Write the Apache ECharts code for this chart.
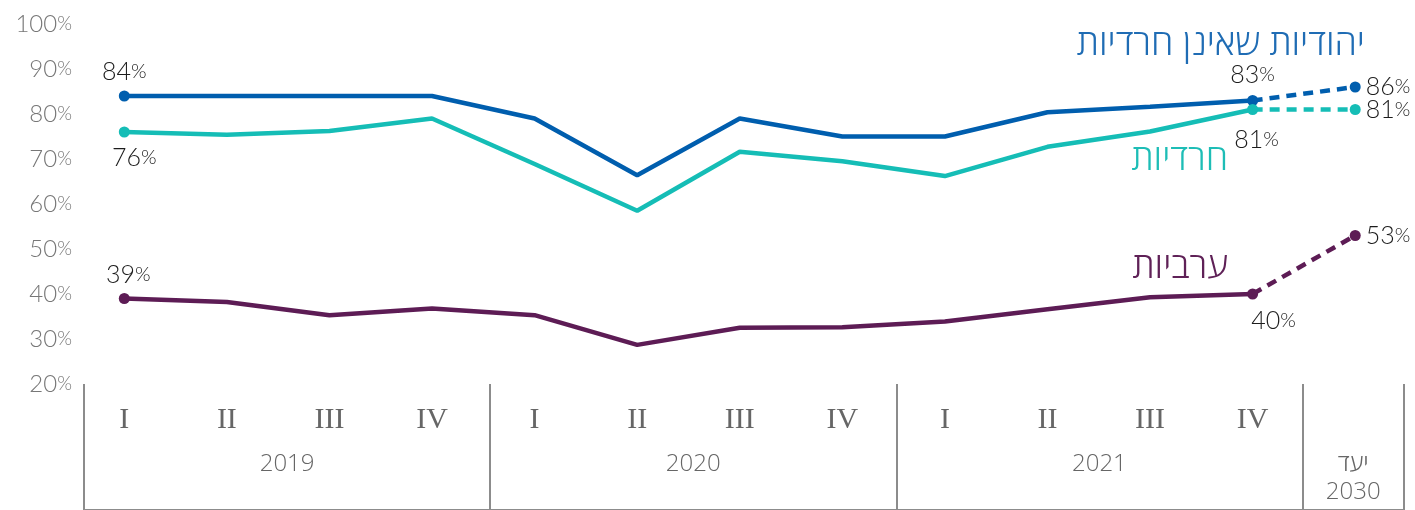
<!DOCTYPE html>
<html lang="he">
<head>
<meta charset="utf-8">
<title>שיעור תעסוקה</title>
<script src="https://cdn.jsdelivr.net/npm/echarts@6/dist/echarts.min.js"></script>
<style>
  html, body { margin: 0; padding: 0; background: #ffffff; }
  #chart { width: 1415px; height: 510px; }
</style>
</head>
<body>
<div id="chart"></div>
<script>
// Quarter labels along the time axis; the last slot is the 2030 target.
const quarters = ['I', 'II', 'III', 'IV', 'I', 'II', 'III', 'IV', 'I', 'II', 'III', 'IV', ''];
// Year groups of the lower table and how many slots each one spans.
const yearGroups = ['2019', '2020', '2021', 'יעד\n2030'];
const groupSizes = [4, 4, 4, 1];

// Series names.
const nameJewish = 'יהודיות שאינן חרדיות';
const nameHaredi = 'חרדיות';
const nameArab = 'ערביות';

// Employment rate (%), quarterly 2019–2021.
const jewish = [84, 84, 84, 84, 79, 66.4, 79, 75, 75, 80.4, 81.6, 83, null];
const haredi = [76, 75.4, 76.2, 79, 68.9, 58.5, 71.6, 69.5, 66.2, 72.7, 76.1, 81, null];
const arab = [39, 38.2, 35.3, 36.8, 35.3, 28.7, 32.5, 32.6, 33.9, 36.6, 39.3, 40, null];

// 2030 targets (drawn as a dashed link from the last quarter).
const jewishTarget = [null, null, null, null, null, null, null, null, null, null, null, 83, 86];
const harediTarget = [null, null, null, null, null, null, null, null, null, null, null, 81, 81];
const arabTarget = [null, null, null, null, null, null, null, null, null, null, null, 40, 53];

const COLORS = { jewish: '#005eae', haredi: '#15bdb6', arab: '#5d1c55' };
const NUM_FONT = 'Lato, "Open Sans", Roboto, sans-serif';
const HEB_FONT = '"Open Sans", "DejaVu Sans", "Liberation Sans", sans-serif';

const pctRich = {
  n: { fontFamily: NUM_FONT, fontWeight: 300, fontSize: 25, color: '#1c1c1c' },
  p: { fontFamily: NUM_FONT, fontWeight: 300, fontSize: 20, color: '#1c1c1c' }
};

// Build line data; selected points get a dot and a value label.
function withMarks(values, marks) {
  return values.map((v, i) => {
    const m = marks[i];
    if (v == null || !m) return v;
    return {
      value: v,
      symbol: 'circle',
      symbolSize: 11,
      label: {
        show: true,
        position: m.pos,
        distance: m.dist,
        offset: m.off || [0, 0],
        formatter: p => '{n|' + Math.round(p.value) + '}{p|%}',
        rich: pctRich
      }
    };
  });
}

function solidSeries(name, values, color, marks) {
  return {
    name: name,
    type: 'line',
    xAxisIndex: 0, yAxisIndex: 0,
    data: withMarks(values, marks),
    symbol: 'none',
    showSymbol: true,
    lineStyle: { color: color, width: 4.5 },
    itemStyle: { color: color },
    z: 3,
    animation: false
  };
}

function dashedSeries(name, values, color, marks) {
  return {
    name: name + ' 2030',
    type: 'line',
    xAxisIndex: 0, yAxisIndex: 0,
    data: withMarks(values, marks),
    symbol: 'none',
    lineStyle: { color: color, width: 4.5, type: [10, 7] },
    itemStyle: { color: color },
    z: 4,
    animation: false
  };
}

// Centres of the year groups on the table's 0..13 scale.
const groupCenters = [];
let acc = 0;
groupSizes.forEach(s => { groupCenters.push(acc + s / 2); acc += s; });
const tableMax = acc;

const chart = echarts.init(document.getElementById('chart'), null, { renderer: 'canvas' });

const frameLine = { color: '#8c8c8c', width: 2 };

chart.setOption({
  backgroundColor: '#ffffff',
  grid: [
    { left: 73, right: 8.5, top: 24, bottom: 126 },
    { left: 84, right: 11, top: 384, bottom: 0 }
  ],
  xAxis: [
    {
      type: 'category',
      gridIndex: 0,
      data: quarters,
      boundaryGap: true,
      axisLine: { show: false },
      axisTick: { show: false },
      splitLine: { show: false },
      axisLabel: {
        interval: 0,
        margin: 21,
        fontFamily: '"Liberation Serif", "DejaVu Serif", serif',
        fontSize: 30,
        color: '#666666'
      }
    },
    {
      type: 'value',
      gridIndex: 1,
      min: 0,
      max: tableMax,
      interval: 4,
      position: 'top',
      axisLine: { show: true, lineStyle: frameLine },
      axisTick: { show: false },
      splitLine: { show: true, lineStyle: frameLine },
      axisLabel: {
        show: true,
        inside: true,
        customValues: groupCenters,
        margin: 66,
        verticalAlign: 'top',
        lineHeight: 28,
        fontFamily: HEB_FONT,
        fontWeight: 300,
        fontSize: 24,
        color: '#666666',
        formatter: v => {
          const i = groupCenters.indexOf(v);
          return i >= 0 ? yearGroups[i] : '';
        }
      }
    }
  ],
  yAxis: [
    {
      type: 'value',
      gridIndex: 0,
      min: 20,
      max: 100,
      interval: 10,
      axisLine: { show: false },
      axisTick: { show: false },
      splitLine: { show: false },
      axisLabel: {
        margin: 1,
        formatter: v => '{n|' + v + '}{p|%}',
        rich: {
          n: { fontFamily: NUM_FONT, fontWeight: 300, fontSize: 24, color: '#777777' },
          p: { fontFamily: NUM_FONT, fontWeight: 300, fontSize: 19, color: '#777777' }
        }
      }
    },
    {
      type: 'value',
      gridIndex: 1,
      min: 0,
      max: 1,
      show: false
    }
  ],
  series: [
    solidSeries(nameJewish, jewish, COLORS.jewish, {
      0: { pos: 'top', dist: 6 },
      11: { pos: 'top', dist: 8 }
    }),
    solidSeries(nameHaredi, haredi, COLORS.haredi, {
      0: { pos: 'bottom', dist: 8, off: [10, 0] },
      11: { pos: 'bottom', dist: 12, off: [4, 0] }
    }),
    solidSeries(nameArab, arab, COLORS.arab, {
      0: { pos: 'top', dist: 6, off: [4, 0] },
      11: { pos: 'bottom', dist: 9, off: [21, 0] }
    }),
    dashedSeries(nameJewish, jewishTarget, COLORS.jewish, {
      12: { pos: 'right', dist: 5 }
    }),
    dashedSeries(nameHaredi, harediTarget, COLORS.haredi, {
      12: { pos: 'right', dist: 5 }
    }),
    dashedSeries(nameArab, arabTarget, COLORS.arab, {
      12: { pos: 'right', dist: 5 }
    })
  ],
  // Series names written next to their lines.
  graphic: [
    {
      type: 'text', right: 50, top: 27, z: 10,
      style: { text: nameJewish, fill: '#1f6cb4', font: '300 36px ' + HEB_FONT }
    },
    {
      type: 'text', right: 187, top: 142, z: 10,
      style: { text: nameHaredi, fill: '#1dbdb6', font: '300 36px ' + HEB_FONT }
    },
    {
      type: 'text', right: 187, top: 250, z: 10,
      style: { text: nameArab, fill: '#5f2157', font: '300 36px ' + HEB_FONT }
    }
  ]
});
</script>
</body>
</html>
